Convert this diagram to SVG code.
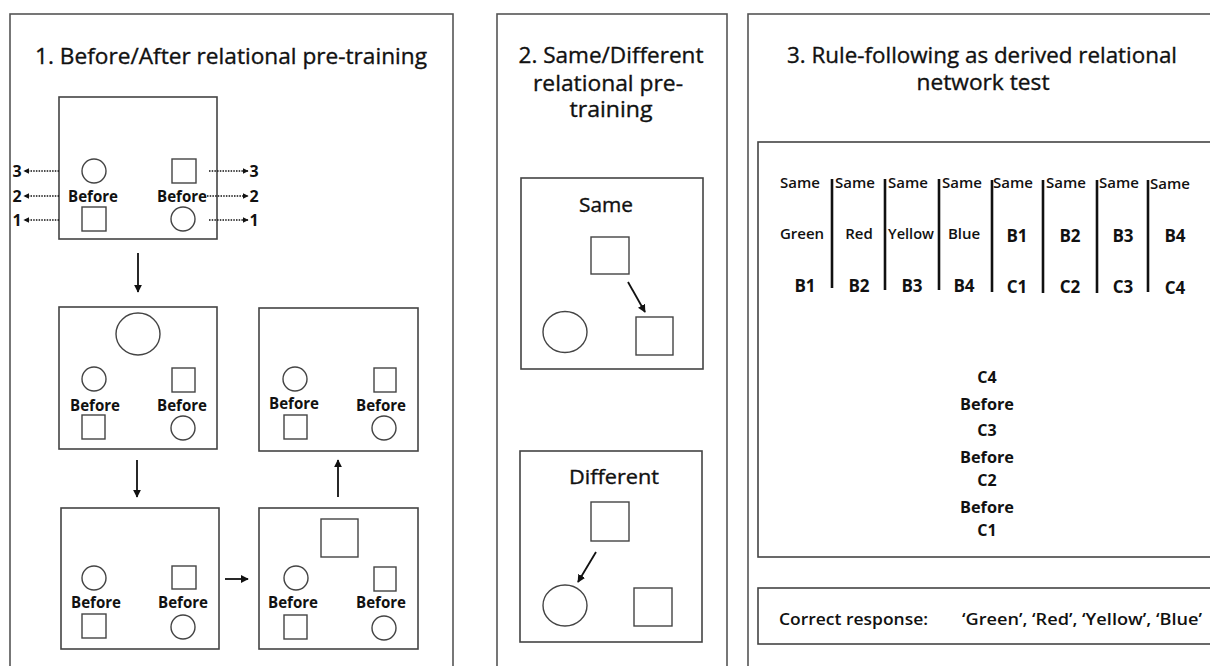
<svg xmlns="http://www.w3.org/2000/svg" width="1210" height="666" viewBox="0 0 1210 666">
<style>
text{font-family:"Open Sans","Liberation Sans",sans-serif;fill:#111}
.ttl{font-size:22px;text-anchor:middle;stroke:#111;stroke-width:0.35}
.lbl{font-size:16px;font-weight:bold;text-anchor:middle}
.tb{font-size:15px;font-weight:600;text-anchor:middle}
.tc{font-size:17px;font-weight:bold;text-anchor:middle}
.tm{font-size:16px;font-weight:bold;text-anchor:middle}
.sub{font-size:20px;text-anchor:middle;stroke:#111;stroke-width:0.35}
.rs{font-size:16px;font-weight:600}
.panel{fill:#fff;stroke:#555;stroke-width:1.6}
.box{fill:#fff;stroke:#444;stroke-width:1.6}
.sh{fill:#fff;stroke:#444;stroke-width:1.4}
.arr{stroke:#111;stroke-width:1.8;fill:none;marker-end:url(#ah)}
.dot{stroke:#111;stroke-width:1.3;fill:none;stroke-dasharray:1.5 1.2;marker-end:url(#ahs)}
.bar{stroke:#111;stroke-width:2.6}
</style>
<defs>
<marker id="ah" viewBox="0 0 10 10" refX="9" refY="5" markerWidth="8" markerHeight="8" markerUnits="userSpaceOnUse" orient="auto"><path d="M0,0 L10,5 L0,10 z" fill="#111"/></marker>
<marker id="ahs" viewBox="0 0 10 10" refX="9" refY="5" markerWidth="6" markerHeight="6" markerUnits="userSpaceOnUse" orient="auto"><path d="M0,0 L10,5 L0,10 z" fill="#111"/></marker>
</defs>
<rect width="1210" height="666" fill="#fff"/>

<g id="panel1">
<rect class="panel" x="10" y="14" width="443" height="700"/>
<text class="ttl" x="231" y="64" textLength="392" lengthAdjust="spacingAndGlyphs">1. Before/After relational pre-training</text>
</g>

<g id="box1">
<rect class="box" x="59" y="97" width="158" height="142"/>
<circle class="sh" cx="94" cy="171" r="12"/>
<rect class="sh" x="172" y="159" width="24" height="24"/>
<text class="lbl" x="93" y="202" textLength="50" lengthAdjust="spacingAndGlyphs">Before</text>
<text class="lbl" x="182" y="202" textLength="50" lengthAdjust="spacingAndGlyphs">Before</text>
<rect class="sh" x="82" y="207" width="24" height="24"/>
<circle class="sh" cx="183" cy="219" r="12"/>
<text class="lbl" x="17" y="177">3</text>
<text class="lbl" x="17" y="202">2</text>
<text class="lbl" x="17" y="226">1</text>
<text class="lbl" x="254" y="177">3</text>
<text class="lbl" x="254" y="202">2</text>
<text class="lbl" x="254" y="226">1</text>
</g>

<g id="box2">
<rect class="box" x="59" y="307" width="158" height="142"/>
<ellipse class="sh" cx="138" cy="334" rx="22" ry="21"/>
<circle class="sh" cx="94" cy="379" r="12"/>
<rect class="sh" x="172" y="368" width="23" height="24"/>
<text class="lbl" x="95" y="411" textLength="50" lengthAdjust="spacingAndGlyphs">Before</text>
<text class="lbl" x="182" y="411" textLength="50" lengthAdjust="spacingAndGlyphs">Before</text>
<rect class="sh" x="82" y="415" width="23" height="24"/>
<circle class="sh" cx="183" cy="428" r="12"/>
</g>

<g id="box3">
<rect class="box" x="61" y="508" width="158" height="141"/>
<circle class="sh" cx="94" cy="578" r="12"/>
<rect class="sh" x="172" y="566" width="24" height="23"/>
<text class="lbl" x="96" y="608" textLength="50" lengthAdjust="spacingAndGlyphs">Before</text>
<text class="lbl" x="183" y="608" textLength="50" lengthAdjust="spacingAndGlyphs">Before</text>
<rect class="sh" x="82" y="614" width="24" height="24"/>
<circle class="sh" cx="183" cy="627" r="12"/>
</g>

<g id="box4">
<rect class="box" x="259" y="508" width="159" height="141"/>
<rect class="sh" x="321" y="519" width="37" height="38"/>
<circle class="sh" cx="296" cy="578" r="12"/>
<rect class="sh" x="374" y="567" width="22" height="24"/>
<text class="lbl" x="293" y="608" textLength="50" lengthAdjust="spacingAndGlyphs">Before</text>
<text class="lbl" x="381" y="608" textLength="50" lengthAdjust="spacingAndGlyphs">Before</text>
<rect class="sh" x="284" y="615" width="23" height="24"/>
<circle class="sh" cx="384" cy="628" r="12"/>
</g>

<g id="box5">
<rect class="box" x="259" y="308" width="159" height="143"/>
<circle class="sh" cx="295" cy="379" r="12"/>
<rect class="sh" x="374" y="368" width="22" height="24"/>
<text class="lbl" x="294" y="409" textLength="50" lengthAdjust="spacingAndGlyphs">Before</text>
<text class="lbl" x="381" y="411" textLength="50" lengthAdjust="spacingAndGlyphs">Before</text>
<rect class="sh" x="284" y="415" width="23" height="24"/>
<circle class="sh" cx="384" cy="428" r="12"/>
</g>

<g id="panel2">
<rect class="panel" x="497" y="14" width="230" height="700"/>
<text class="ttl" x="611" y="63" textLength="185" lengthAdjust="spacingAndGlyphs">2. Same/Different</text>
<text class="ttl" x="608" y="91" textLength="150" lengthAdjust="spacingAndGlyphs">relational pre-</text>
<text class="ttl" x="611" y="117" textLength="83" lengthAdjust="spacingAndGlyphs">training</text>
</g>

<g id="same-box">
<rect class="box" x="521" y="178" width="182" height="191"/>
<text class="sub" x="606" y="212" textLength="54" lengthAdjust="spacingAndGlyphs">Same</text>
<rect class="sh" x="591" y="237" width="38" height="37"/>
<ellipse class="sh" cx="565" cy="332" rx="22" ry="20.5"/>
<rect class="sh" x="636" y="317" width="37" height="38"/>
</g>

<g id="different-box">
<rect class="box" x="520" y="451" width="182" height="191"/>
<text class="sub" x="614" y="484" textLength="90" lengthAdjust="spacingAndGlyphs">Different</text>
<rect class="sh" x="591" y="502" width="38" height="39"/>
<ellipse class="sh" cx="565" cy="605.5" rx="22" ry="20.5"/>
<rect class="sh" x="634" y="588" width="38" height="38"/>
</g>

<g id="panel3">
<rect class="panel" x="748" y="14" width="500" height="700"/>
<text class="ttl" x="982" y="63" textLength="390" lengthAdjust="spacingAndGlyphs">3. Rule-following as derived relational</text>
<text class="ttl" x="983" y="90" textLength="133" lengthAdjust="spacingAndGlyphs">network test</text>
</g>

<g id="network-box">
<rect class="box" x="758" y="142" width="500" height="415"/>
<g id="table">
<text class="tb" x="800" y="188">Same</text>
<text class="tb" x="855" y="188">Same</text>
<text class="tb" x="908" y="188">Same</text>
<text class="tb" x="962" y="188">Same</text>
<text class="tb" x="1013" y="188">Same</text>
<text class="tb" x="1066" y="188">Same</text>
<text class="tb" x="1119" y="188">Same</text>
<text class="tb" x="1170" y="189">Same</text>
<text class="tb" x="802" y="239">Green</text>
<text class="tb" x="859" y="239">Red</text>
<text class="tb" x="911" y="239" textLength="46" lengthAdjust="spacingAndGlyphs">Yellow</text>
<text class="tb" x="964" y="239">Blue</text>
<text class="tc" x="1017" y="242">B1</text>
<text class="tc" x="1070" y="242">B2</text>
<text class="tc" x="1123" y="242">B3</text>
<text class="tc" x="1175" y="242">B4</text>
<text class="tc" x="805" y="292">B1</text>
<text class="tc" x="859" y="292">B2</text>
<text class="tc" x="912" y="292">B3</text>
<text class="tc" x="964" y="292">B4</text>
<text class="tc" x="1017" y="293">C1</text>
<text class="tc" x="1070" y="293">C2</text>
<text class="tc" x="1123" y="293">C3</text>
<text class="tc" x="1175" y="294">C4</text>
<line class="bar" x1="832" y1="179" x2="832" y2="288"/>
<line class="bar" x1="885" y1="179" x2="885" y2="290"/>
<line class="bar" x1="939" y1="179" x2="939" y2="290"/>
<line class="bar" x1="992" y1="180" x2="992" y2="292"/>
<line class="bar" x1="1043" y1="180" x2="1043" y2="293"/>
<line class="bar" x1="1097" y1="180" x2="1097" y2="293"/>
<line class="bar" x1="1148" y1="180" x2="1148" y2="292"/>
</g>
<text class="tm" x="987" y="383">C4</text>
<text class="tm" x="987" y="410" textLength="54" lengthAdjust="spacingAndGlyphs">Before</text>
<text class="tm" x="987" y="436">C3</text>
<text class="tm" x="987" y="463" textLength="54" lengthAdjust="spacingAndGlyphs">Before</text>
<text class="tm" x="987" y="486">C2</text>
<text class="tm" x="987" y="513" textLength="54" lengthAdjust="spacingAndGlyphs">Before</text>
<text class="tm" x="987" y="536">C1</text>
</g>

<g id="response-box">
<rect class="box" x="758" y="588" width="500" height="56"/>
<text class="rs" x="779" y="625" textLength="149" lengthAdjust="spacingAndGlyphs">Correct response:</text>
<text class="rs" x="962" y="625" textLength="240" lengthAdjust="spacingAndGlyphs">‘Green’, ‘Red’, ‘Yellow’, ‘Blue’</text>
</g>

<g id="connectors">
<line class="arr" x1="138" y1="253" x2="138" y2="292"/>
<line class="arr" x1="137" y1="460" x2="137" y2="497"/>
<line class="arr" x1="225" y1="579" x2="248" y2="579"/>
<line class="arr" x1="338" y1="497" x2="338" y2="460"/>
<line class="arr" x1="628" y1="282" x2="645" y2="312"/>
<line class="arr" x1="596" y1="552" x2="578" y2="582"/>
<line class="dot" x1="59" y1="171" x2="24" y2="171"/>
<line class="dot" x1="59" y1="196" x2="24" y2="196"/>
<line class="dot" x1="59" y1="220" x2="24" y2="220"/>
<line class="dot" x1="209" y1="171" x2="248" y2="171"/>
<line class="dot" x1="207" y1="196" x2="248" y2="196"/>
<line class="dot" x1="209" y1="220" x2="248" y2="220"/>
</g>
</svg>
